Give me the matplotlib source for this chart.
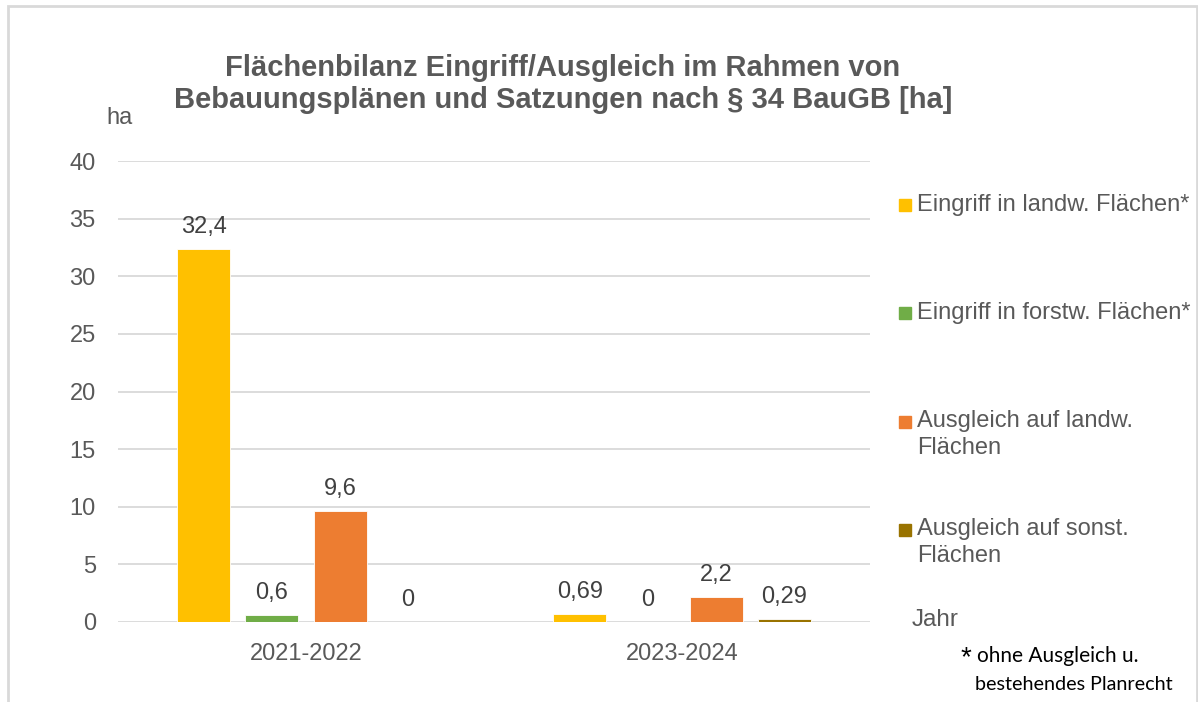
import numpy as np
import matplotlib.pyplot as plt
from matplotlib.patches import Rectangle

plt.rcParams['font.family'] = ['Liberation Sans', 'DejaVu Sans']

# Daten
jahre = ['2021-2022', '2023-2024']
serien = ['Eingriff in landw. Flächen*', 'Eingriff in forstw. Flächen*',
          'Ausgleich auf landw.\nFlächen', 'Ausgleich auf sonst.\nFlächen']
eingriff_landw = [32.4, 0.69]
eingriff_forstw = [0.6, 0]
ausgleich_landw = [9.6, 2.2]
ausgleich_sonst = [0, 0.29]
labels_landw = ['32,4', '0,69']
labels_forstw = ['0,6', '0']
labels_ausgl = ['9,6', '2,2']
labels_sonst = ['0', '0,29']

werte = [eingriff_landw, eingriff_forstw, ausgleich_landw, ausgleich_sonst]
beschriftungen = [labels_landw, labels_forstw, labels_ausgl, labels_sonst]
farben = ['#FFC000', '#70AD47', '#ED7D31', '#997300']

W, H = 1198, 702
fig = plt.figure(figsize=(W / 100, H / 100), dpi=100)
ax = fig.add_axes([118 / W, 1 - 622 / H, (870 - 118) / W, (622 - 161) / H])

x = np.arange(len(jahre))
breite = 0.141
schritt = 0.181
for i, (vals, labs, col) in enumerate(zip(werte, beschriftungen, farben)):
    pos = x + (i - 1.5) * schritt
    ax.bar(pos, vals, width=breite, color=col, edgecolor='white', linewidth=0.6, zorder=3)
    for px, v, t in zip(pos, vals, labs):
        ax.annotate(t, (px, v), xytext=(0, 11.5), textcoords='offset points',
                    ha='center', va='baseline', fontsize=17, color='#404040')

ax.set_xlim(-0.5, 1.5)
ax.set_ylim(0, 40)
ax.set_yticks(range(0, 41, 5))
ax.set_xticks(x)
ax.set_xticklabels(jahre)
ax.grid(axis='y', color='#d9d9d9', linewidth=1.3, zorder=0)
for s in ax.spines.values():
    s.set_visible(False)
ax.tick_params(length=0, labelsize=17, labelcolor='#595959')
ax.tick_params(axis='y', pad=16)
ax.tick_params(axis='x', pad=15)

# Titel
fig.text(563 / W, 1 - 84 / H,
         'Flächenbilanz Eingriff/Ausgleich im Rahmen von\nBebauungsplänen und Satzungen nach § 34 BauGB [ha]',
         ha='center', va='center', fontsize=21, fontweight='bold', color='#595959',
         linespacing=1.17)
fig.text(119 / W, 1 - 118 / H, 'ha', ha='center', va='center', fontsize=17, color='#595959')
fig.text(935 / W, 1 - 620 / H, 'Jahr', ha='center', va='center', fontsize=17.5, color='#595959')

# Legende
leg_y = [205, 313, 422, 530]
for lab, col, y in zip(serien, farben, leg_y):
    fig.add_artist(Rectangle((899 / W, 1 - (y + 6) / H), 12 / W, 12 / H,
                             transform=fig.transFigure, color=col))
    yt = y + 12.5 if '\n' in lab else y
    fig.text(917 / W, 1 - yt / H, lab, ha='left', va='center',
             fontsize=17, color='#595959', linespacing=1.25)

# Fussnote
fig.text(961 / W, 1 - 658 / H, '*', ha='left', va='center', fontsize=20, color='black')
fig.text(977 / W, 1 - 656 / H, 'ohne Ausgleich u.', ha='left', va='center',
         fontsize=15, color='black', family=['Lato', 'DejaVu Sans'])
fig.text(975 / W, 1 - 684 / H, 'bestehendes Planrecht', ha='left', va='center',
         fontsize=14.2, color='black', family=['Lato', 'DejaVu Sans'])

# Rahmen
fig.add_artist(Rectangle((8 / W, -0.05), 1189 / W, 1.05 - 6 / H, transform=fig.transFigure,
                         fill=False, edgecolor='#d9d9d9', linewidth=2))

fig.savefig('out.png', dpi=100)
